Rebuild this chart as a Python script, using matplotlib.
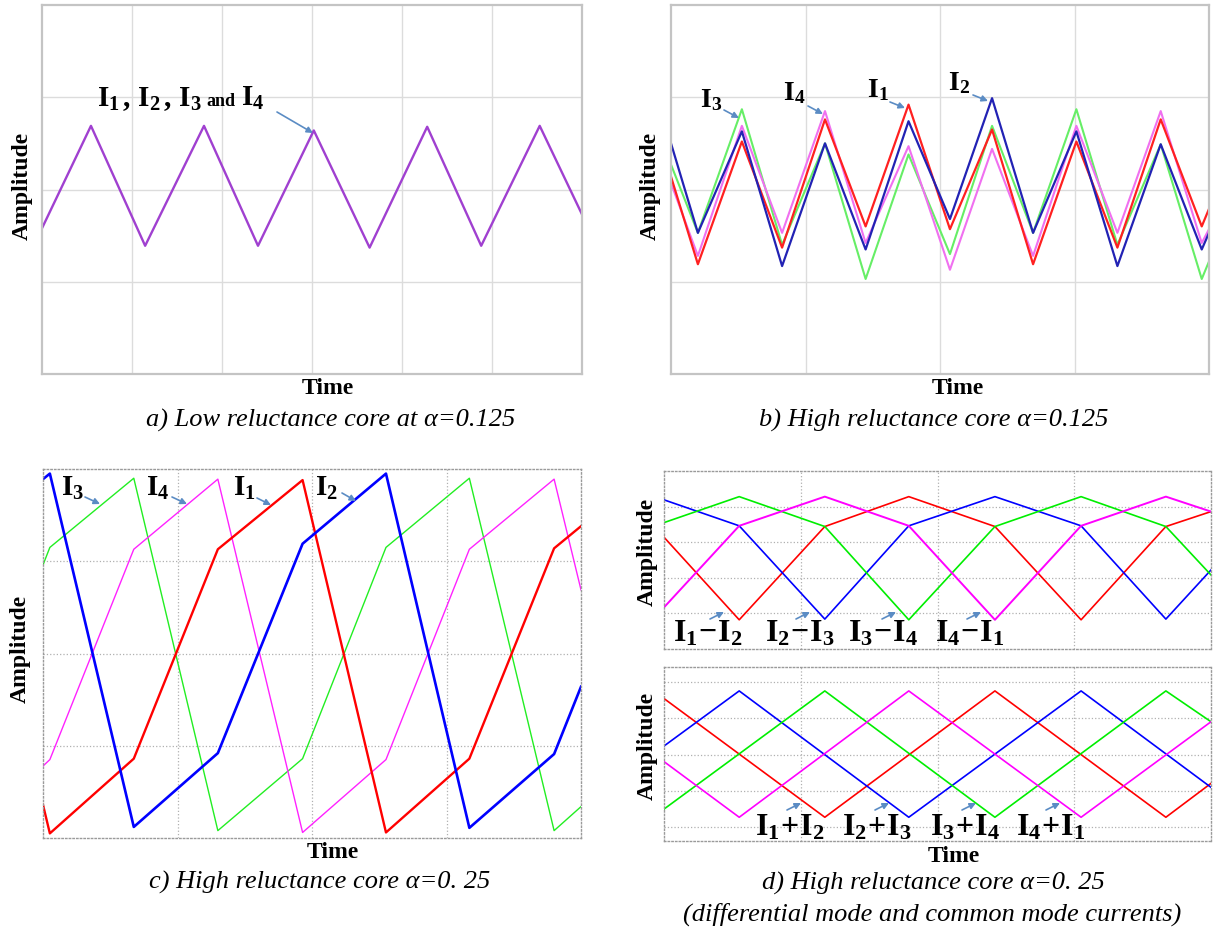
import matplotlib
matplotlib.use("Agg")
from matplotlib import pyplot as plt

W, H = 1213, 935

# ---- panel a: low reluctance core, all four currents overlap ----
xa = [0, 0.544, 1.146, 1.80, 2.40, 3.02, 3.64, 4.28, 4.88, 5.53, 6.0]
ya = [1.58, 2.69, 1.39, 2.69, 1.39, 2.64, 1.37, 2.68, 1.39, 2.69, 1.73]

# ---- panel b: high reluctance core, alpha=0.125 ----
xb = [0, 0.2, 0.527, 0.826, 1.145, 1.447, 1.766, 2.074, 2.387, 2.692, 3.014, 3.319, 3.641, 3.946, 4.0]
b_red = [2.14, 1.19, 2.52, 1.37, 2.76, 1.60, 2.92, 1.57, 2.65, 1.19, 2.52, 1.37, 2.76, 1.60, 1.79]
b_blue = [2.50, 1.53, 2.63, 1.17, 2.50, 1.35, 2.74, 1.68, 2.99, 1.53, 2.63, 1.17, 2.49, 1.35, 1.53]
b_green = [2.27, 1.53, 2.87, 1.40, 2.50, 1.03, 2.38, 1.30, 2.69, 1.53, 2.87, 1.40, 2.49, 1.03, 1.22]
b_magenta = [2.07, 1.28, 2.69, 1.53, 2.85, 1.42, 2.47, 1.13, 2.44, 1.28, 2.69, 1.53, 2.85, 1.42, 1.57]

# ---- panel c: high reluctance core, alpha=0.25 ----
xc = [0, 0.051, 0.675, 1.30, 1.93, 2.55, 3.17, 3.80, 4.0]
c_blue = [3.89, 3.95, 0.12, 0.92, 3.19, 3.95, 0.11, 0.91, 1.64]
c_red = [0.36, 0.05, 0.86, 3.13, 3.88, 0.06, 0.86, 3.14, 3.38]
c_green = [2.96, 3.15, 3.90, 0.08, 0.86, 3.15, 3.90, 0.08, 0.34]
c_magenta = [0.78, 0.85, 3.13, 3.89, 0.06, 0.85, 3.13, 3.89, 2.69]

# ---- panel d (top): differential mode currents ----
xd = [0, 0.55, 1.176, 1.79, 2.42, 3.05, 3.67, 4.0]
dm_red = [3.14, 0.82, 3.44, 4.28, 3.44, 0.82, 3.44, 3.86]
dm_blue = [4.19, 3.46, 0.84, 3.46, 4.28, 3.46, 0.84, 2.22]
dm_green = [3.55, 4.28, 3.44, 0.82, 3.44, 4.28, 3.44, 2.08]
dm_magenta = [1.17, 3.46, 4.28, 3.46, 0.82, 3.46, 4.28, 3.86]

# ---- panel d (bottom): common mode currents ----
cm_x_rg = [0, 1.176, 2.42, 3.67, 4.0]
cm_x_bm = [0, 0.55, 1.79, 3.05, 4.0]
cm_red = [3.55, 0.275, 3.76, 0.275, 1.21]
cm_green = [0.5, 3.76, 0.275, 3.76, 2.91]
cm_blue = [2.24, 3.76, 0.275, 3.76, 1.10]
cm_magenta = [1.81, 0.275, 3.76, 0.275, 2.91]

captions = ["a) Low reluctance core at α=0.125",
            "b) High reluctance core α=0.125",
            "c) High reluctance core α=0. 25",
            "d) High reluctance core α=0. 25",
            "(differential mode and common mode currents)"]

plt.rcParams['font.family'] = ['Liberation Serif', 'DejaVu Serif']
plt.rcParams['mathtext.fontset'] = 'custom'
plt.rcParams['mathtext.rm'] = 'Liberation Serif'
plt.rcParams['mathtext.bf'] = 'Liberation Serif:bold'
plt.rcParams['mathtext.it'] = 'Liberation Serif:italic'


def fp(x, y):
    return (x / W, 1 - y / H)


def rect(l, t, r, b):
    return [l / W, 1 - b / H, (r - l) / W, (b - t) / H]


def style_solid(ax, nx, ny):
    ax.set_xlim(0, nx)
    ax.set_ylim(0, ny)
    ax.set_xticks(range(1, nx))
    ax.set_yticks(range(1, ny))
    ax.grid(True, color='#dcdcdc', lw=1.0)
    ax.tick_params(length=0, labelbottom=False, labelleft=False)
    for s in ax.spines.values():
        s.set_color('#c4c4c4')
        s.set_linewidth(1.6)


def style_dotted(ax, nx, ylo, yhi, yt):
    ax.set_xlim(0, nx)
    ax.set_ylim(ylo, yhi)
    ax.set_xticks(range(1, nx))
    ax.set_yticks(yt)
    ax.grid(True, color='#b0b0b0', lw=0.9, ls=':')
    ax.tick_params(length=0, labelbottom=False, labelleft=False)
    for s in ax.spines.values():
        s.set_color('#9a9a9a')
        s.set_linewidth(1.0)
        s.set_linestyle(':')


fig = plt.figure(figsize=(W / 100, H / 100), dpi=100)

ax_a = fig.add_axes(rect(42, 5, 582, 374))
ax_b = fig.add_axes(rect(671, 5, 1209, 374))
ax_c = fig.add_axes(rect(43, 469, 581, 838))
ax_d1 = fig.add_axes(rect(664, 471, 1211, 649))
ax_d2 = fig.add_axes(rect(664, 667, 1211, 841))

style_solid(ax_a, 6, 4)
ax_a.plot(xa, ya, color='#a040d0', lw=1.7)

style_solid(ax_b, 4, 4)
ax_b.plot(xb, b_green, color='#66ee66', lw=1.5)
ax_b.plot(xb, b_magenta, color='#f070f0', lw=1.5)
ax_b.plot(xb, b_red, color='#ff2020', lw=1.6)
ax_b.plot(xb, b_blue, color='#2222b4', lw=1.6)

style_dotted(ax_c, 4, 0, 4, [1, 2, 3])
ax_c.plot(xc, c_green, color='#22ee22', lw=1.0)
ax_c.plot(xc, c_magenta, color='#ff22ff', lw=1.0)
ax_c.plot(xc, c_red, color='#ff0000', lw=1.7)
ax_c.plot(xc, c_blue, color='#0000ff', lw=1.9)

style_dotted(ax_d1, 4, 0, 5, [1, 2, 3, 4])
ax_d1.plot(xd, dm_red, color='#ff0000', lw=1.2)
ax_d1.plot(xd, dm_blue, color='#0000ff', lw=1.2)
ax_d1.plot(xd, dm_green, color='#00ee00', lw=1.2)
ax_d1.plot(xd, dm_magenta, color='#ff00ff', lw=1.4)

style_dotted(ax_d2, 4, -0.38, 4.42, [0, 1, 2, 3, 4])
ax_d2.plot(cm_x_rg, cm_red, color='#ff0000', lw=1.2)
ax_d2.plot(cm_x_bm, cm_blue, color='#0000ff', lw=1.2)
ax_d2.plot(cm_x_rg, cm_green, color='#00ee00', lw=1.2)
ax_d2.plot(cm_x_bm, cm_magenta, color='#ff00ff', lw=1.2)

# axis titles
lab = dict(fontsize=17, fontweight='bold', ha='center', va='center')
for (x, y) in [(22, 186), (650, 186), (20, 649), (647, 552), (647, 746)]:
    fig.text(*fp(x, y), "Amplitude", rotation=90, **lab)
for (x, y) in [(328, 388), (958, 388), (333, 853), (954, 857)]:
    fig.text(*fp(x, y), "Time", **lab)

# captions
cap = dict(fontsize=19, style='italic', ha='center', va='center')
fig.text(*fp(331, 420), captions[0], **cap)
fig.text(*fp(934, 420), captions[1], **cap)
fig.text(*fp(320, 882), captions[2], **cap)
fig.text(*fp(933, 883), captions[3], **cap)
fig.text(*fp(932, 914), captions[4], **cap)

arrow = dict(arrowstyle='-|>', color='#5b8cc4', lw=1.2, mutation_scale=9,
             shrinkA=0, shrinkB=0)


def arr(x0, y0, x1, y1):
    fig.add_artist(matplotlib.patches.FancyArrowPatch(
        fp(x0, y0), fp(x1, y1), transform=fig.transFigure, **arrow))


def label(x, y, s, size):
    fig.text(*fp(x, y), s, fontsize=size, ha='left', va='baseline')


# panel a label
label(97, 106, r"$\mathbf{I_1\,,\,I_2\,,\,I_3}$", 21)
fig.text(*fp(206, 106), "and", fontsize=13, fontweight='bold', ha='left', va='baseline')
label(241, 106, r"$\mathbf{I_4}$", 21)
arr(277, 112, 313, 133)

# panel b labels
for (x, y, s, ax0, ay0, ax1, ay1) in [
        (700, 107, r"$\mathbf{I_3}$", 724, 110, 739, 118),
        (783, 100, r"$\mathbf{I_4}$", 808, 106, 823, 114),
        (867, 97, r"$\mathbf{I_1}$", 890, 102, 905, 108),
        (948, 90, r"$\mathbf{I_2}$", 973, 95, 988, 101)]:
    label(x, y, s, 20)
    arr(ax0, ay0, ax1, ay1)

# panel c labels
for (x, y, s, ax0, ay0, ax1, ay1) in [
        (61, 496, r"$\mathbf{I_3}$", 85, 497, 100, 504),
        (146, 496, r"$\mathbf{I_4}$", 172, 497, 187, 504),
        (233, 496, r"$\mathbf{I_1}$", 257, 498, 271, 505),
        (315, 496, r"$\mathbf{I_2}$", 342, 493, 356, 501)]:
    label(x, y, s, 21)
    arr(ax0, ay0, ax1, ay1)

# panel d labels (differential mode)
for (x, s, ax0) in [(673, r"$\mathbf{I_1\!-\!I_2}$", 710),
                    (765, r"$\mathbf{I_2\!-\!I_3}$", 796),
                    (848, r"$\mathbf{I_3\!-\!I_4}$", 882),
                    (935, r"$\mathbf{I_4\!-\!I_1}$", 967)]:
    label(x, 641, s, 23)
    arr(ax0, 619, ax0 + 14, 612)

# panel d labels (common mode)
for (x, s, ax0) in [(755, r"$\mathbf{I_1\!+\!I_2}$", 787),
                    (842, r"$\mathbf{I_2\!+\!I_3}$", 875),
                    (930, r"$\mathbf{I_3\!+\!I_4}$", 962),
                    (1016, r"$\mathbf{I_4\!+\!I_1}$", 1046)]:
    label(x, 836, s, 23)
    arr(ax0, 810, ax0 + 14, 803)

fig.savefig("out.png", dpi=100)
